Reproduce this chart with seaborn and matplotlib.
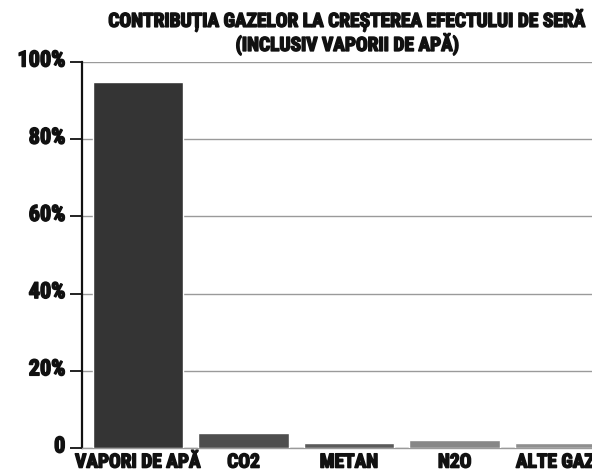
import matplotlib
matplotlib.use("Agg")
import matplotlib.pyplot as plt
import matplotlib.transforms as mtransforms
import matplotlib.patheffects as pe
import seaborn as sns
import pandas as pd

categories = ["VAPORI DE APĂ", "CO2", "METAN", "N2O", "ALTE GAZE"]
values = [94.8, 3.9, 1.3, 2.1, 1.4]
bar_colors = ["#343434", "#4e4e4e", "#5a5a5a", "#878787", "#8f8f8f"]
y_ticks = [0, 20, 40, 60, 80, 100]
y_labels = ["0", "20%", "40%", "60%", "80%", "100%"]
title = "CONTRIBUȚIA GAZELOR LA CREȘTEREA EFECTULUI DE SERĂ\n(INCLUSIV VAPORII DE APĂ)"

df = pd.DataFrame({"gaz": categories, "pct": values})

sns.set_style("white")
plt.rcParams["font.family"] = ["DejaVu Sans Condensed", "Roboto Condensed",
                               "Liberation Sans Narrow", "DejaVu Sans"]
plt.rcParams["font.weight"] = "bold"
plt.rcParams["font.stretch"] = "condensed"

# fake a heavier weight with a thin stroke in the text colour
thick = [pe.withStroke(linewidth=1.1, foreground="#111111")]

fig = plt.figure(figsize=(5.92, 4.74), dpi=100)
# axes runs past the right edge, like the cropped scan
ax = fig.add_axes([82 / 592, 26 / 474, 531 / 592, 386 / 474])

sns.barplot(data=df, x="gaz", y="pct", hue="gaz", palette=bar_colors,
            legend=False, width=0.86, ax=ax, zorder=3)

ax.set_xlim(-0.53, 4.5)
ax.set_ylim(0, 100)
ax.set_yticks(y_ticks)
ax.set_yticklabels(y_labels, fontsize=16, fontweight="bold", color="#111111")
ax.tick_params(axis="y", length=9, width=1.4, color="#222222", pad=3, left=True)
ax.tick_params(axis="x", length=0, pad=4, labelsize=14, labelcolor="#111111")
lift = mtransforms.ScaledTranslation(0, 4 / 100, fig.dpi_scale_trans)
for lab in ax.get_yticklabels():
    lab.set_transform(lab.get_transform() + lift)
    lab.set_path_effects(thick)
for lab in ax.get_xticklabels():
    lab.set_fontweight("bold")
    lab.set_path_effects(thick)
ax.set_xlabel("")
ax.set_ylabel("")

ax.yaxis.grid(True, color="#9a9a9a", lw=1.0, zorder=0)
ax.set_axisbelow(True)
for s in ("top", "right"):
    ax.spines[s].set_visible(False)
ax.spines["left"].set_color("#111111")
ax.spines["left"].set_linewidth(1.6)
ax.spines["bottom"].set_color("#9a9a9a")
ax.spines["bottom"].set_linewidth(1.0)

t = ax.set_title(title, fontsize=14, fontweight="bold", pad=8,
                 linespacing=1.15, color="#111111")
t.set_path_effects(thick)

fig.savefig("out.png", dpi=100)
